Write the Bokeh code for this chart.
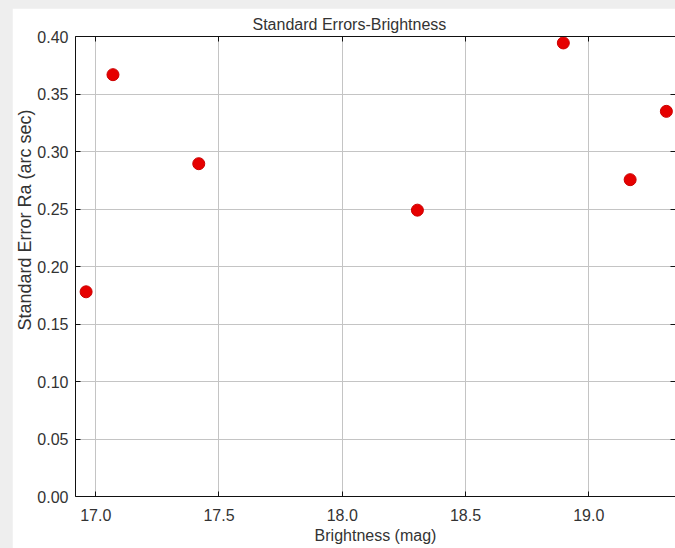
from bokeh.plotting import figure
from bokeh.models import (Range1d, LinearAxis, FixedTicker, Title, GlobalInlineStyleSheet,
                          NumeralTickFormatter)
from bokeh.embed import file_html
from bokeh.resources import INLINE

# Data
brightness = [16.961, 17.070, 17.418, 18.305, 18.897, 19.168, 19.315]
std_error_ra = [0.178, 0.3668, 0.2894, 0.249, 0.3944, 0.2755, 0.3349]
x_ticks = [17.0, 17.5, 18.0, 18.5, 19.0]
y_ticks = [0.0, 0.05, 0.10, 0.15, 0.20, 0.25, 0.30, 0.35, 0.40]
title_text = "Standard Errors-Brightness"
x_label = "Brightness (mag)"
y_label = "Standard Error Ra (arc sec)"

FONT = "Liberation Sans"
TXT = "#333333"

p = figure(
    width=663, height=540,
    x_range=Range1d(16.918, 19.352),
    y_range=Range1d(0.0, 0.40),
    output_backend="svg", toolbar_location=None,
    min_border_left=63, min_border_right=0, min_border_top=28, min_border_bottom=52,
    background_fill_color="white", border_fill_color="white",
    outline_line_color=None,
    x_axis_label=x_label,
)
p.margin = (8, 0, 0, 12)

p.title = Title(text=title_text, align="left", offset=177,
                text_font=FONT, text_font_size="16px", text_font_style="normal",
                text_color=TXT, standoff=7)

# grid
p.xgrid.ticker = FixedTicker(ticks=x_ticks)
p.ygrid.ticker = FixedTicker(ticks=y_ticks)
for g in (p.xgrid, p.ygrid):
    g.grid_line_color = "#c4c4c4"
    g.grid_line_width = 1

def style_axis(ax, labels=True):
    ax.axis_line_color = "#111111"
    ax.axis_line_width = 1
    ax.major_tick_in = 5
    ax.major_tick_out = 0
    ax.major_tick_line_color = "#111111"
    ax.minor_tick_line_color = None
    ax.major_label_text_font = FONT
    ax.major_label_text_font_size = "16px"
    ax.major_label_text_color = TXT
    ax.axis_label_text_font = FONT
    ax.axis_label_text_font_size = "16px"
    ax.axis_label_text_font_style = "normal"
    ax.axis_label_text_color = TXT
    if not labels:
        ax.major_label_text_font_size = "0px"
        ax.major_label_text_color = None

xa = p.xaxis[0]
xa.ticker = FixedTicker(ticks=x_ticks)
style_axis(xa)
xa.formatter = NumeralTickFormatter(format="0.0")
xa.major_label_standoff = 12
xa.axis_label_standoff = 3

ya = p.yaxis[0]
ya.ticker = FixedTicker(ticks=y_ticks)
style_axis(ya)
ya.formatter = NumeralTickFormatter(format="0.00")
ya.major_label_standoff = 7

top = LinearAxis(ticker=FixedTicker(ticks=x_ticks))
style_axis(top, labels=False)
top.major_label_standoff = 0
p.add_layout(top, "above")

right = LinearAxis(ticker=FixedTicker(ticks=y_ticks))
style_axis(right, labels=False)
right.axis_line_color = None
right.major_label_standoff = 0
p.add_layout(right, "right")

# y-axis title (sits above the frame centre in the reference)
p.add_layout(Title(text=y_label, align="left", offset=166,
                   text_font=FONT, text_font_size="18px", text_font_style="normal",
                   text_color=TXT, standoff=0), "left")

p.scatter(brightness, std_error_ra, size=12, fill_color="#e60000",
          line_color="#cc0000", line_width=1)

p.stylesheets = [GlobalInlineStyleSheet(
    css="html, body { margin: 0; padding: 0; background-color: #eeeeee; overflow: hidden; }")]

open("out.html", "w").write(file_html(p, INLINE))
